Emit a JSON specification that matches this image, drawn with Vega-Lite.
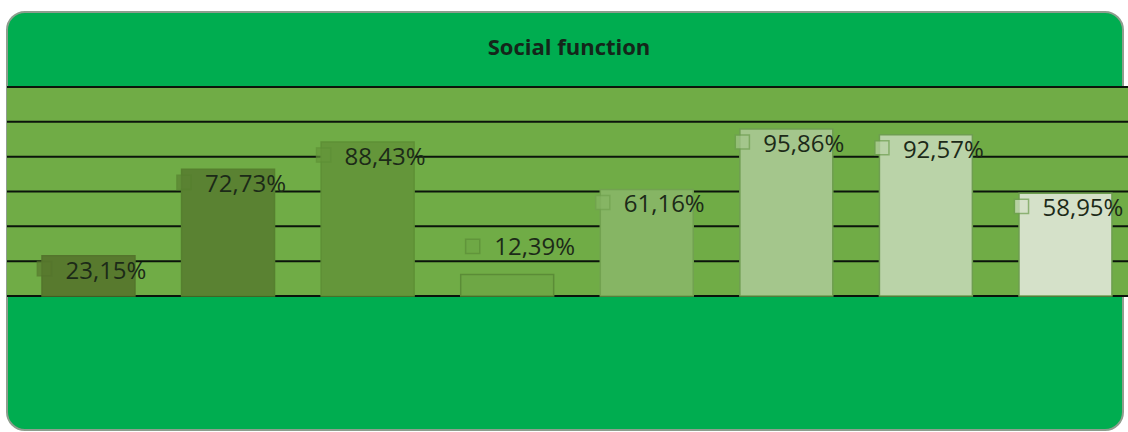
{
  "$schema": "https://vega.github.io/schema/vega-lite/v6.json",
  "autosize": "none",
  "width": 1116,
  "height": 418,
  "padding": {"left": 7, "top": 12, "right": 5, "bottom": 2},
  "background": "white",
  "view": {"fill": "#00AD50", "stroke": "#8E9E8E", "strokeWidth": 2, "cornerRadius": 18},
  "config": {
    "locale": {"number": {"decimal": ",", "thousands": ".", "grouping": [3], "currency": ["", " €"]}}
  },
  "title": {
    "text": "Social function",
    "font": "Open Sans",
    "fontSize": 22,
    "fontWeight": "bold",
    "color": "#14261A",
    "anchor": "middle",
    "orient": "top",
    "baseline": "alphabetic",
    "offset": -65,
    "dx": 4
  },
  "datasets": {
    "bars": [
      {"cat": "A", "value": 0.2315},
      {"cat": "B", "value": 0.7273},
      {"cat": "C", "value": 0.8843},
      {"cat": "D", "value": 0.1239},
      {"cat": "E", "value": 0.6116},
      {"cat": "F", "value": 0.9586},
      {"cat": "G", "value": 0.9257},
      {"cat": "H", "value": 0.5895}
    ],
    "grid": [{"v": 0}, {"v": 0.2}, {"v": 0.4}, {"v": 0.6}, {"v": 0.8}, {"v": 1.0}, {"v": 1.2}]
  },
  "resolve": {"scale": {"x": "shared", "y": "shared"}},
  "layer": [
    {
      "data": {"values": [{}]},
      "mark": {"type": "rect", "color": "#70AC46", "xOffset": 12},
      "encoding": {
        "y": {"datum": 0, "type": "quantitative", "scale": {"domain": [-0.769, 1.6303], "nice": false, "zero": false}, "axis": null},
        "y2": {"datum": 1.2}
      }
    },
    {
      "data": {"name": "grid"},
      "mark": {"type": "rule", "color": "#0B140B", "strokeWidth": 2, "xOffset": 12},
      "encoding": {
        "y": {"field": "v", "type": "quantitative", "axis": null}
      }
    },
    {
      "data": {"name": "bars"},
      "mark": {"type": "bar", "strokeWidth": 1.5},
      "encoding": {
        "x": {"field": "cat", "type": "nominal", "sort": null, "axis": null,
              "scale": {"paddingInner": 0.334, "paddingOuter": 0.165, "align": 0.76}},
        "y": {"field": "value", "type": "quantitative", "axis": null},
        "fill": {"field": "cat", "type": "nominal", "legend": null,
                 "scale": {"domain": ["A","B","C","D","E","F","G","H"],
                           "range": ["#587A2E", "#5A8232", "#64963A", "#6EA745", "#86B564", "#A4C68C", "#BAD3A8", "#D5E1C9"]}},
        "stroke": {"field": "cat", "type": "nominal", "legend": null,
                   "scale": {"domain": ["A","B","C","D","E","F","G","H"],
                             "range": ["#54752C", "#56802F", "#5E9036", "#5B8C37", "#72A250", "#6E9E50", "#6E9E50", "#6E9E50"]}}
      }
    },
    {
      "data": {"name": "bars"},
      "transform": [{"filter": "datum.cat != 'D'"}],
      "mark": {"type": "point", "shape": "square", "filled": true, "size": 200, "strokeWidth": 1.5, "xOffset": -44, "yOffset": 13},
      "encoding": {
        "x": {"field": "cat", "type": "nominal", "sort": null},
        "y": {"field": "value", "type": "quantitative"},
        "fill": {"field": "cat", "type": "nominal", "legend": null},
        "stroke": {"field": "cat", "type": "nominal", "legend": null}
      }
    },
    {
      "data": {"name": "bars"},
      "transform": [{"filter": "datum.cat == 'D'"}],
      "mark": {"type": "point", "shape": "square", "filled": true, "size": 200, "strokeWidth": 1.5, "xOffset": -34.5, "yOffset": -28},
      "encoding": {
        "x": {"field": "cat", "type": "nominal", "sort": null},
        "y": {"field": "value", "type": "quantitative"},
        "fill": {"field": "cat", "type": "nominal", "legend": null},
        "stroke": {"field": "cat", "type": "nominal", "legend": null}
      }
    },
    {
      "data": {"name": "bars"},
      "transform": [{"filter": "datum.cat != 'D'"}],
      "mark": {"type": "text", "align": "left", "baseline": "middle", "dx": -23, "dy": 16, "font": "Open Sans", "fontSize": 24, "color": "#1C2A18"},
      "encoding": {
        "x": {"field": "cat", "type": "nominal", "sort": null},
        "y": {"field": "value", "type": "quantitative"},
        "text": {"field": "value", "type": "quantitative", "format": ".2%"}
      }
    },
    {
      "data": {"name": "bars"},
      "transform": [{"filter": "datum.cat == 'D'"}],
      "mark": {"type": "text", "align": "left", "baseline": "middle", "dx": -13, "dy": -26, "font": "Open Sans", "fontSize": 24, "color": "#1C2A18"},
      "encoding": {
        "x": {"field": "cat", "type": "nominal", "sort": null},
        "y": {"field": "value", "type": "quantitative"},
        "text": {"field": "value", "type": "quantitative", "format": ".2%"}
      }
    }
  ]
}
